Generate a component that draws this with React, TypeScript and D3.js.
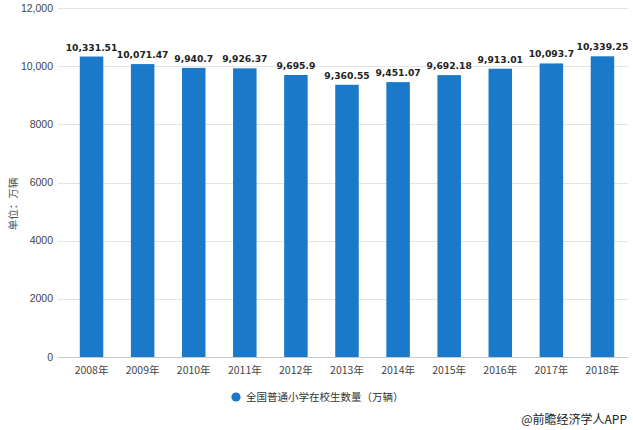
import React from "react";
import * as d3 from "d3";

const categories = ["2008年", "2009年", "2010年", "2011年", "2012年", "2013年", "2014年", "2015年", "2016年", "2017年", "2018年"];
const values = [10331.51, 10071.47, 9940.7, 9926.37, 9695.9, 9360.55, 9451.07, 9692.18, 9913.01, 10093.7, 10339.25];
const valueLabels = ["10,331.51", "10,071.47", "9,940.7", "9,926.37", "9,695.9", "9,360.55", "9,451.07", "9,692.18", "9,913.01", "10,093.7", "10,339.25"];
const yTicks = [0, 2000, 4000, 6000, 8000, 10000, 12000];
const yTickLabels = ["0", "2000", "4000", "6000", "8000", "10,000", "12,000"];
const seriesName = "全国普通小学在校生数量（万辆）";
const yTitle = "单位：万辆";
const credit = "@前瞻经济学人APP";

const W = 633;
const H = 430;
const BLUE = "#1a79c9";
const CJK = "'Noto Sans CJK SC', 'Microsoft YaHei', sans-serif";

export default function App() {
  const x = d3.scaleBand<string>().domain(categories).range([66, 628]).paddingInner(0.54).paddingOuter(0.27);
  const y = d3.scaleLinear().domain([0, 12000]).range([357, 8]);
  const gridL = 58;
  const gridR = 628;
  return (
    <svg width={W} height={H} style={{ position: "absolute", left: 0, top: 0, background: "#fff" }}>
      {yTicks.map((t, i) => (
        <g key={t}>
          <line x1={gridL} x2={gridR} y1={Math.round(y(t)) + 0.5} y2={Math.round(y(t)) + 0.5} stroke={t === 0 ? "#c8c8c8" : "#e3e3e3"} strokeWidth={1} />
          <text x={53} y={y(t) + 3.5} textAnchor="end" fontSize={10.5} fill="#444" fontFamily="'Liberation Sans', Arial, sans-serif">
            {yTickLabels[i]}
          </text>
        </g>
      ))}
      {values.map((v, i) => {
        const bx = x(categories[i]) as number;
        return (
          <g key={categories[i]}>
            <rect x={bx} y={y(v)} width={x.bandwidth()} height={y(0) - y(v)} fill={BLUE} />
            <text x={bx + x.bandwidth() / 2} y={y(v) - 6} textAnchor="middle" fontSize={9.2} fontWeight="bold" fill="#222" fontFamily="'DejaVu Sans', Verdana, sans-serif">
              {valueLabels[i]}
            </text>
          </g>
        );
      })}
      {categories.map((c) => (
        <text key={c} x={(x(c) as number) + x.bandwidth() / 2} y={374} textAnchor="middle" fontSize={10.5} fill="#444" fontFamily={CJK}>
          {c}
        </text>
      ))}
      <text transform="translate(17,204) rotate(-90)" textAnchor="middle" fontSize={10.5} fill="#555" fontFamily={CJK}>
        {yTitle}
      </text>
      <circle cx={236} cy={397} r={4.6} fill={BLUE} />
      <text x={246} y={401} fontSize={10.5} fill="#333" fontFamily={CJK}>
        {seriesName}
      </text>
      <text x={627} y={424} textAnchor="end" fontSize={12} fill="#222" fontFamily={CJK}>
        {credit}
      </text>
    </svg>
  );
}
